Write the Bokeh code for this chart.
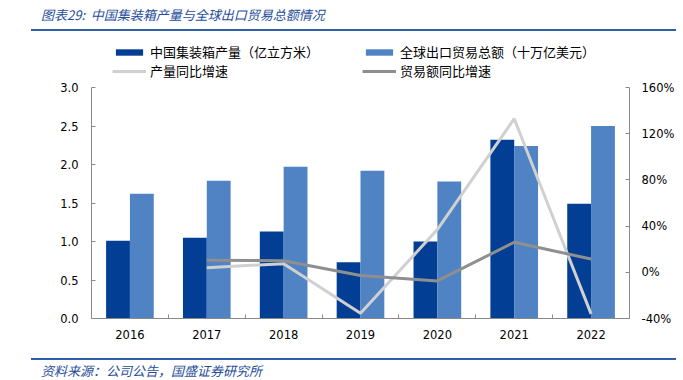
from bokeh.plotting import figure
from bokeh.models import (Range1d, LinearAxis, FixedTicker, NumeralTickFormatter,
                          Legend, LegendItem, Div)
from bokeh.layouts import column
from bokeh.embed import file_html
from bokeh.resources import INLINE

# ---- data ----
years = ["2016", "2017", "2018", "2019", "2020", "2021", "2022"]
production = [1.01, 1.05, 1.13, 0.73, 1.00, 2.32, 1.49]       # 亿立方米
trade = [1.62, 1.79, 1.97, 1.92, 1.78, 2.24, 2.50]            # 十万亿美元
growth_years = ["2017", "2018", "2019", "2020", "2021", "2022"]
production_growth = [0.04, 0.075, -0.355, 0.37, 1.33, -0.36]
trade_growth = [0.105, 0.10, -0.027, -0.075, 0.26, 0.115]
left_ticks = [0.0, 0.5, 1.0, 1.5, 2.0, 2.5, 3.0]
right_ticks = [-0.4, 0.0, 0.4, 0.8, 1.2, 1.6]

title_text = "图表29:&nbsp; 中国集装箱产量与全球出口贸易总额情况"
source_text = "资料来源：公司公告，国盛证券研究所"
names = ["中国集装箱产量（亿立方米）", "全球出口贸易总额（十万亿美元）", "产量同比增速", "贸易额同比增速"]

DARK = "#023F94"
LIGHT = "#4F83C4"
LGRAY = "#D0D0D0"
DGRAY = "#8F8F8F"
BLUE_TXT = "#1F4E9A"
RULE = "#2F5FA8"
CJK = "Noto Sans CJK SC"
NUM = "DejaVu Sans"

W = 683
TOP_H, MAIN_H, BOT_H = 40, 310, 30
AXIS_TOP = 47           # where the value axes end (canvas px of main figure)
FRAME_BOTTOM = 278
LEFT_MIN, LEFT_MAX = 0.0, 3.0
PCT_MIN, PCT_MAX = -0.4, 1.6
px_per_unit = (FRAME_BOTTOM - AXIS_TOP) / (LEFT_MAX - LEFT_MIN)
px_per_pct = (FRAME_BOTTOM - AXIS_TOP) / (PCT_MAX - PCT_MIN)
y_end = LEFT_MAX + AXIS_TOP / px_per_unit
pct_end = PCT_MAX + AXIS_TOP / px_per_pct

# ---- header ----
font_css = (f"font-family: {CJK}, sans-serif; font-style: italic; font-size: 13px; "
            f"color: {BLUE_TXT}; white-space: nowrap; line-height: 16px;")
top = Div(width=W, height=TOP_H, margin=0, text=(
    f'<div style="margin-left: 31px; width: 645px; height: 29px; '
    f'border-bottom: 2px solid {RULE}; box-sizing: content-box;">'
    f'<div style="padding-left: 10px; padding-top: 7px; {font_css}">{title_text}</div>'
    '</div>'))

# ---- main chart ----
xpos = [i + 1 for i in range(len(years))]
gx = [years.index(y) + 1 for y in growth_years]

p = figure(width=W, height=MAIN_H, x_range=Range1d(0.5, len(years) + 0.5),
           y_range=Range1d(LEFT_MIN, y_end), toolbar_location=None, output_backend="svg",
           min_border_left=91, min_border_right=54, min_border_top=0,
           min_border_bottom=MAIN_H - FRAME_BOTTOM)
p.extra_y_ranges = {"pct": Range1d(PCT_MIN, pct_end)}
p.grid.visible = False
p.outline_line_color = None

bw = 0.31
r_prod = p.vbar(x=[x - bw / 2 for x in xpos], top=production, width=bw,
                fill_color=DARK, line_color=None)
r_trade = p.vbar(x=[x + bw / 2 for x in xpos], top=trade, width=bw,
                 fill_color=LIGHT, line_color=None)
r_pg = p.line(x=gx, y=production_growth, y_range_name="pct", line_color=LGRAY, line_width=3)
r_tg = p.line(x=gx, y=trade_growth, y_range_name="pct", line_color=DGRAY, line_width=3)

AX = "#8A8A8A"
def style_axis(ax):
    ax.axis_line_color = AX
    ax.major_tick_line_color = AX
    ax.minor_tick_line_color = AX
    ax.major_tick_in = 4
    ax.major_tick_out = 0
    ax.minor_tick_in = 0
    ax.minor_tick_out = 0
    ax.major_label_text_font = NUM
    ax.major_label_text_font_size = "11.5px"
    ax.major_label_text_color = "#000000"

xa = p.xaxis[0]
style_axis(xa)
xa.ticker = FixedTicker(ticks=xpos, minor_ticks=[x + 0.5 for x in xpos[:-1]])
xa.major_label_overrides = {x: y for x, y in zip(xpos, years)}
xa.major_tick_in = 0
xa.minor_tick_in = 4
xa.major_label_standoff = 11

ya = p.yaxis[0]
style_axis(ya)
ya.ticker = FixedTicker(ticks=left_ticks)
ya.formatter = NumeralTickFormatter(format="0.0")
ya.bounds = (LEFT_MIN, LEFT_MAX)
ya.major_label_standoff = 13

ra = LinearAxis(y_range_name="pct", ticker=FixedTicker(ticks=right_ticks),
                formatter=NumeralTickFormatter(format="0%"), bounds=(PCT_MIN, PCT_MAX))
style_axis(ra)
ra.major_label_standoff = 12
p.add_layout(ra, "right")

legend = Legend(items=[LegendItem(label=names[0], renderers=[r_prod]),
                       LegendItem(label=names[2], renderers=[r_pg]),
                       LegendItem(label=names[1], renderers=[r_trade]),
                       LegendItem(label=names[3], renderers=[r_tg])],
                orientation="vertical", ncols=2, location=(21, 238),
                glyph_width=34, glyph_height=8, label_height=14, label_width=212,
                spacing=0, label_standoff=4, padding=0, margin=0,
                border_line_color=None, background_fill_alpha=0,
                label_text_font=CJK, label_text_font_size="13px",
                label_text_color="#000000")
p.add_layout(legend, "center")

# ---- footer ----
bot = Div(width=W, height=BOT_H, margin=0, text=(
    f'<div style="margin-left: 31px; width: 645px; height: 8px; '
    f'border-bottom: 2px solid {RULE}; box-sizing: content-box;"></div>'
    f'<div style="padding-left: 10px; margin-left: 31px; margin-top: 3px; {font_css}">{source_text}</div>'))

layout = column(top, p, bot, spacing=0)
open("out.html", "w").write(file_html(layout, INLINE))
